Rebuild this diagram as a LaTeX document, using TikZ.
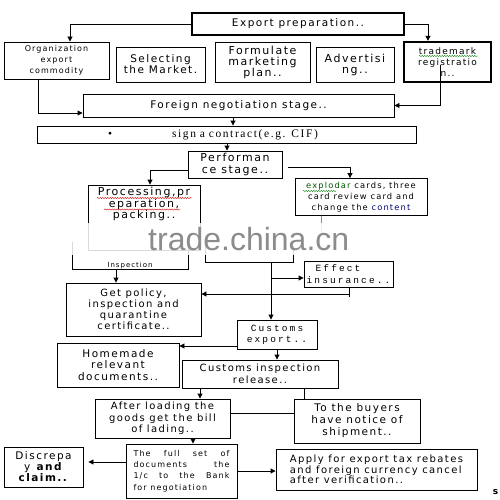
\documentclass[tikz,border=0pt]{standalone}
\usepackage{fontspec}
\setmainfont{DejaVu Sans}[LetterSpace=14]
\newfontfamily\monof{Liberation Mono}[LetterSpace=22]
\newfontfamily\serf{Liberation Serif}[LetterSpace=14]
\newfontfamily\wmf{Liberation Sans}
\usetikzlibrary{arrows.meta,calc,decorations.pathmorphing}
\begin{document}
\begin{tikzpicture}[x=1pt,y=-1pt,
  box/.style={draw,line width=0.9pt,inner sep=0pt,align=center},
  arr/.style={-{Triangle[length=5pt,width=5pt]},line width=0.9pt},
  ln/.style={line width=0.9pt},
  squig/.style={line width=0.4pt,decorate,decoration={snake,amplitude=0.6pt,segment length=2.5pt}}]
\fill[white] (0,0) rectangle (500,500);
\useasboundingbox (0,0) rectangle (500,500);

% top row
\node[box,line width=1.4pt,minimum width=212pt,minimum height=22pt,font=\fontsize{10.5}{12}\selectfont] (exp) at (298,24) {Export preparation..};
\node[box,minimum width=105pt,minimum height=37pt,font=\fontsize{8}{11}\selectfont] (org) at (56.5,60.5) {Organization\\export\\commodity};
\node[box,minimum width=89pt,minimum height=35pt,font=\fontsize{10.5}{11}\selectfont] (sel) at (160.5,64.5) {Selecting\\the Market.};
\node[box,minimum width=95pt,minimum height=40pt,font=\fontsize{11}{11}\selectfont] (form) at (262.5,62) {Formulate\\marketing\\plan..};
\node[box,minimum width=78pt,minimum height=35pt,font=\fontsize{11}{11}\selectfont] (adv) at (355,64.5) {Advertisi\\ng..};
\node[box,line width=2.4pt,minimum width=87pt,minimum height=40pt,font=\fontsize{9}{11}\selectfont] (tm) at (447.5,62) {trademark\\registratio\\n..};
\draw[squig,green!50!black] (419,56) -- (478,56);

\node[box,minimum width=311pt,minimum height=23pt,font=\fontsize{10.5}{12}\selectfont] (neg) at (238.5,105.5) {Foreign negotiation stage..};
\node[box,minimum width=379pt,minimum height=17pt,text width=379pt,align=left,font=\serf\fontsize{11.5}{12}\selectfont] (sign) at (226.5,134.5) {\hspace*{71pt}•\hspace*{60pt}sign a contract(e.g. CIF)};

\node[box,minimum width=94pt,minimum height=27pt,font=\fontsize{11}{12}\selectfont] (perf) at (235,164.5) {Performan\\ce stage..};

% processing box
\node[box,minimum width=112pt,minimum height=65pt] (proc) at (144,217.5) {};
\node[inner sep=0pt,align=center,font=\fontsize{11}{11.5}\selectfont] (proct) at (144,204) {Processing,pr\\eparation,\\packing..};
\draw[squig,red!85!black] (97,198) -- (192,198);
\draw[squig,red!85!black] (104,209.5) -- (180,209.5);

\node[box,minimum width=132pt,minimum height=37pt,font=\fontsize{8.3}{11}\selectfont] (expl) at (361,197) {\textcolor{green!35!black}{explodar} cards, three\\card review card and\\change the \textcolor{blue!45!black}{content}};
\draw[squig,green!50!black] (303,191) -- (336,191);
\draw[ln,black!45] ([xshift=-40pt]expl.south) -- ++(0,18);

% inspection bracket and lower bracket
\draw[ln] (72,242) -- (72,269) -- (188,269) -- (188,248);
\node[inner sep=0pt,anchor=base,font=\fontsize{7}{8}\selectfont] (inspt) at (130,267) {Inspection};
\coordinate (ib) at (116,269);
\draw[ln] (205,244) -- (205,262) -- (293,262) -- (293,246);
\coordinate (b2) at (271,262);

% watermark band
\fill[white,opacity=0.85] (60,223) rectangle (330,255);
\node[inner sep=0pt,anchor=base west,text=black!45,font=\wmf\fontsize{32}{32}\selectfont] (wm) at (148,250) {trade.china.cn};

% middle
\node[box,minimum width=89pt,minimum height=26pt,align=left,font=\monof\fontsize{9.5}{12}\selectfont] (eff) at (348.5,274) {\hspace*{9pt}Effect\\insurance..};
\node[box,minimum width=135pt,minimum height=53pt,font=\fontsize{10}{11}\selectfont] (pol) at (133.5,309.5) {Get policy,\\inspection and\\quarantine\\certificate..};
\node[box,minimum width=80pt,minimum height=29pt,font=\monof\fontsize{9.5}{11}\selectfont] (cus) at (277,334.5) {Customs\\export..};
\node[box,minimum width=122pt,minimum height=44pt,font=\fontsize{10.5}{11.5}\selectfont] (home) at (118,365) {Homemade\\relevant\\documents..};
\node[box,minimum width=156pt,minimum height=28pt,font=\fontsize{10}{11.5}\selectfont] (rel) at (260,374) {Customs inspection\\release..};
\node[box,minimum width=135pt,minimum height=39pt,font=\fontsize{10}{11.5}\selectfont] (aft) at (162.5,418.5) {After loading the\\goods get the bill\\of lading..};
\node[box,minimum width=126pt,minimum height=44pt,font=\fontsize{10.5}{12}\selectfont] (buy) at (357,421) {To the buyers\\have notice of\\shipment..};
\node[box,minimum width=111pt,minimum height=54pt,font=\fontsize{8}{11.3}\selectfont] (full) at (181.5,471) {\makebox[96pt][s]{The full set of}\\\makebox[96pt][s]{documents the}\\\makebox[96pt][s]{1/c to the Bank}\\\makebox[96pt][l]{for negotiation}};
\node[box,minimum width=79pt,minimum height=40pt,font=\fontsize{10.5}{11}\selectfont] (disc) at (43.5,467) {Discrepa\\y \textbf{and}\\\textbf{claim..}};
\node[box,minimum width=201pt,minimum height=41pt,align=left,font=\fontsize{10}{10.5}\selectfont] (apply) at (376.5,469.5) {Apply for export tax rebates\\and foreign currency cancel\\after verification..};
\node[inner sep=0pt,font=\bfseries\fontsize{9}{9}\selectfont] (frag) at (495.5,492) {s};

% connectors
\draw[arr] (exp.west) -| ([xshift=13.5pt]org.north);
\draw[arr] (exp.east) -| ([xshift=-19.5pt]tm.north);
\draw[arr] ([xshift=-18.5pt]org.south) |- ([yshift=-7.5pt]neg.west);
\draw[arr] ([xshift=-7.5pt,yshift=-3pt]tm.center) |- (neg.east);
\draw[arr] ([xshift=-5.5pt]neg.south) -- ([xshift=-5.5pt]neg.south |- sign.north);
\draw[arr] ([xshift=-8pt]perf.north |- sign.south) -- ([xshift=-8pt]perf.north);
\draw[arr] ([yshift=-5.5pt]perf.west) -| ([xshift=6pt]proc.north);
\draw[arr] ([yshift=-2.5pt,xshift=6pt]perf.east) -| ([xshift=-11pt]expl.north);
\draw[arr] (ib) -- (ib |- pol.north);
\draw[arr] (b2) -- (b2 |- cus.north);
\coordinate (br) at (271,278);
\draw[arr] (br) -- (br -| eff.west);
\coordinate (et) at (349,294);
\draw[ln] (eff.south -| et) -- ([yshift=-3pt]et);
\draw[arr] (et) -- (et -| pol.east);
\draw[arr] ([yshift=-11.5pt]cus.west) -- ([yshift=-11.5pt]cus.west -| home.east);
\draw[arr] (cus.south) -- (cus.south |- rel.north);
\draw[arr] ([xshift=37.5pt]aft.north |- rel.south) -- ([xshift=37.5pt]aft.north);
\draw[ln] ([xshift=-53pt]buy.north |- rel.south) -- ([xshift=-53pt]buy.north);
\draw[ln] ([yshift=5.5pt]aft.east) -- ([yshift=5.5pt]aft.east -| buy.west);
\draw[arr] ([xshift=11.5pt]full.north |- aft.south) -- ([xshift=11.5pt]full.north);
\draw[arr,shorten >=5pt] ([yshift=9pt]full.west) -- ([yshift=9pt]full.west -| disc.east);
\draw[arr] (full.east) -- (full.east -| apply.west);
\end{tikzpicture}
\end{document}
